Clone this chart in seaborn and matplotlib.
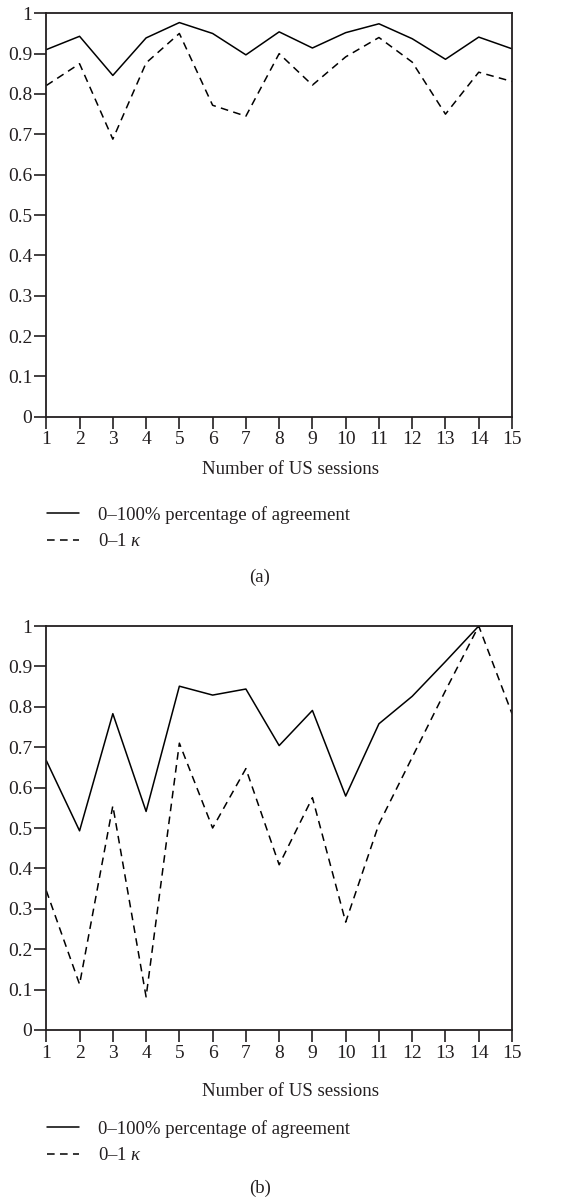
import numpy as np
import pandas as pd
import matplotlib
matplotlib.use("Agg")
import matplotlib.pyplot as plt
import seaborn as sns

sessions = list(range(1, 16))
agree_a = [0.910, 0.943, 0.846, 0.939, 0.977, 0.950, 0.897, 0.954, 0.914, 0.952, 0.974, 0.937, 0.886, 0.941, 0.912]
kappa_a = [0.821, 0.875, 0.688, 0.877, 0.950, 0.772, 0.745, 0.900, 0.822, 0.892, 0.940, 0.879, 0.750, 0.854, 0.831]
agree_b = [0.667, 0.493, 0.783, 0.541, 0.851, 0.829, 0.844, 0.704, 0.791, 0.579, 0.758, 0.826, 0.912, 1.000, 1.000]
kappa_b = [0.345, 0.113, 0.555, 0.082, 0.710, 0.500, 0.647, 0.409, 0.575, 0.267, 0.510, 0.675, 0.840, 1.000, 0.783]
series_labels = ["0\u2013100% percentage of agreement", "0\u20131 $\\kappa$"]
y_ticks = [0, 0.1, 0.2, 0.3, 0.4, 0.5, 0.6, 0.7, 0.8, 0.9, 1]
y_ticklabels = ["0", "0.1", "0.2", "0.3", "0.4", "0.5", "0.6", "0.7", "0.8", "0.9", "1"]
panel_labels = ["(a)", "(b)"]
xlabel = "Number of US sessions"

sns.set_style("ticks")
plt.rcParams["font.family"] = ["Liberation Serif", "DejaVu Serif"]
plt.rcParams["mathtext.fontset"] = "custom"
plt.rcParams["mathtext.rm"] = "Liberation Serif"
plt.rcParams["mathtext.it"] = "Liberation Serif:italic"
TXT = "#231f20"
FS = 13.5
TFS = 14

fig = plt.figure(figsize=(5.87, 11.99), dpi=100)
W, H = 587, 1199

def fx(px):
    return px / W

def fy(py):
    return 1 - py / H

panels = [
    (agree_a, kappa_a, 13.3, 416.7, 470, 513, 577),
    (agree_b, kappa_b, 626, 1030, 1091.5, 1127, 1188),
]

for i, (ag, kp, top, bot, xl_y, leg_y, cap_y) in enumerate(panels):
    ax = fig.add_axes([fx(46.3), fy(bot), fx(512 - 46.3), (bot - top) / H])
    df = pd.DataFrame({
        "session": sessions * 2,
        "value": ag + kp,
        "series": ["agree"] * 15 + ["kappa"] * 15,
    })
    sns.lineplot(data=df, x="session", y="value", style="series",
                 dashes={"agree": "", "kappa": (5, 3.5)},
                 color="black", linewidth=1.1, ax=ax, legend=False)
    ax.set_xlim(1, 15)
    ax.set_ylim(0, 1)
    ax.set_xticks(sessions)
    ax.set_xticklabels([str(s) for s in sessions], fontsize=TFS, color=TXT)
    ax.set_yticks(y_ticks)
    ax.set_yticklabels(y_ticklabels, fontsize=TFS, color=TXT)
    ax.tick_params(axis="both", direction="out", length=8.5, width=1.2, color=TXT)
    ax.tick_params(axis="y", pad=1.5)
    ax.tick_params(axis="x", pad=2)
    for s in ax.spines.values():
        s.set_visible(True)
        s.set_linewidth(1.3)
        s.set_color(TXT)
    ax.set_xlabel("")
    ax.set_ylabel("")
    fig.text(fx(290), fy(xl_y), xlabel, ha="center", va="center", fontsize=FS, color=TXT)
    handles = ax.get_lines()[:2]
    leg = fig.legend(handles, series_labels, loc="upper left",
                     bbox_to_anchor=(fx(47), fy(leg_y - 7)), frameon=False,
                     fontsize=FS, handlelength=1.7, handletextpad=1.0,
                     labelspacing=0.5, borderpad=0, borderaxespad=0)
    for t in leg.get_texts():
        t.set_color(TXT)
    fig.text(fx(260), fy(cap_y), panel_labels[i], ha="center", va="center", fontsize=FS, color=TXT)

fig.savefig("out.png", dpi=100)
